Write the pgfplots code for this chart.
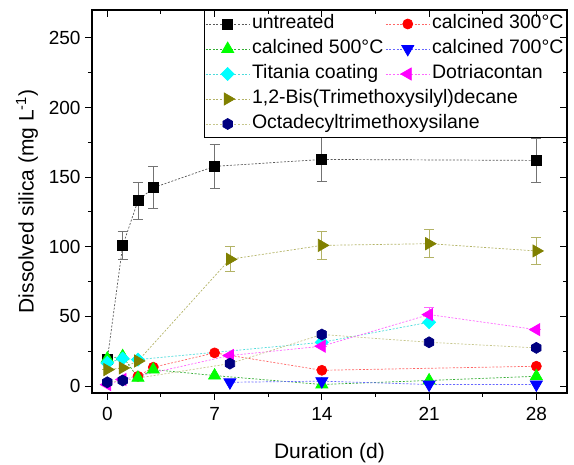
\documentclass[border=0pt]{standalone}
\usepackage{pgfplots}
\pgfplotsset{compat=1.18}
\usepackage{fontspec}
\setmainfont{Liberation Sans}
\definecolor{cred}{RGB}{255,0,0}
\definecolor{cgreen}{RGB}{0,255,0}
\definecolor{cblue}{RGB}{0,0,255}
\definecolor{ccyan}{RGB}{0,255,255}
\definecolor{cmag}{RGB}{255,0,255}
\definecolor{colive}{RGB}{128,128,0}
\definecolor{cnavy}{RGB}{0,0,128}
\pgfdeclareplotmark{hexagon*}{%
  \pgfpathmoveto{\pgfpointpolar{90}{\pgfplotmarksize}}%
  \pgfpathlineto{\pgfpointpolar{150}{\pgfplotmarksize}}%
  \pgfpathlineto{\pgfpointpolar{210}{\pgfplotmarksize}}%
  \pgfpathlineto{\pgfpointpolar{270}{\pgfplotmarksize}}%
  \pgfpathlineto{\pgfpointpolar{330}{\pgfplotmarksize}}%
  \pgfpathlineto{\pgfpointpolar{30}{\pgfplotmarksize}}%
  \pgfpathclose
  \pgfusepathqfillstroke}
\tikzset{
  ser/.style={line width=0.7pt, dash pattern=on 2pt off 1.6pt},
  mk/.style={solid, fill=#1, draw=#1},
}
\begin{document}
\begin{tikzpicture}
\begin{axis}[name=ax, scale only axis, width=475pt, height=383pt,
  xmin=-1, xmax=30, ymin=-5, ymax=270,
  xtick={0,7,14,21,28}, ytick={0,50,...,250},
  minor x tick num=1, minor y tick num=1,
  xtick pos=bottom, ytick pos=left, tick align=outside,
  major tick length=7pt, minor tick length=4pt,
  axis line style={line width=1.3pt},
  every tick/.style={black, line width=1pt},
  tick label style={font=\fontsize{19}{19}\selectfont},
  xticklabel style={yshift=-4pt},
  yticklabel style={xshift=-1pt},
  /pgf/number format/assume math mode=true,
  xlabel={Duration (d)},
  ylabel={Dissolved silica (mg L\textsuperscript{-1})},
  label style={font=\fontsize{21}{21}\selectfont},
  xlabel style={at={(axis description cs:0.5,-0.157)}, anchor=center},
  ylabel style={at={(axis description cs:-0.137,0.5)}, anchor=center},
  legend style={at={(1,1)}, anchor=north east, draw=black, line width=1pt,
    font=\fontsize{19.5}{19.5}\selectfont, column sep=0pt, inner sep=1pt,
    nodes={inner xsep=2pt, inner ysep=2.5pt, text height=15pt, text depth=5pt}},
  legend cell align=left,
  legend columns=2,
  legend image code/.code={\draw[mark repeat=2, mark phase=2] plot coordinates {(0pt,0pt) (22pt,0pt) (44pt,0pt)};},
]
% untreated
\addplot[ser, draw=black!65, mark=square*, mark size=5pt, mark options={mk=black},
  error bars/.cd, y dir=both, y explicit,
  error bar style={solid, draw=black!55, line width=0.8pt},
  error mark options={rotate=90, mark size=5pt, draw=black!55, line width=0.8pt}]
  table[x=x, y=y, y error=e] {
x y e
0 19 2
1 100.7 10
2 133 13
3 142.4 15
7 157.7 16
14 162.7 16
28 162 16
};
\addlegendentry{untreated}
% calcined 300
\addplot[ser, draw=cred!60, mark=*, mark size=5pt, mark options={mk=cred}]
  table[x=x, y=y] {
x y
2 7
3 13.5
7 23.8
14 11.3
28 14.2
};
\addlegendentry{calcined 300°C}
% calcined 500
\addplot[ser, draw=cgreen!60!black!80, mark=triangle*, mark size=7pt, mark options={mk=cgreen}]
  table[x=x, y=y] {
x y
0 19.7
1 21.4
2 5.9
3 11.8
7 7.5
14 1.1
21 4
28 7
};
\addlegendentry{calcined 500°C}
% calcined 700
\addplot[ser, draw=cblue!60, mark=triangle*, mark size=7pt, mark options={mk=cblue, rotate=180}]
  table[x=x, y=y] {
x y
8 2.7
14 3.5
21 1.1
28 1.1
};
\addlegendentry{calcined 700°C}
% titania
\addplot[ser, draw=ccyan!80!black!70, mark=diamond*, mark size=6.5pt, mark options={mk=ccyan, xscale=1.33}]
  table[x=x, y=y] {
x y
0 16.6
1 19.7
2 19
14 31.4
21 45.8
};
\addlegendentry{Titania coating}
% dotriacontan
\addplot[ser, draw=cmag!60, mark=triangle*, mark size=7pt, mark options={mk=cmag, rotate=90},
  error bars/.cd, y dir=both, y explicit,
  error bar style={solid, draw=cmag!60, line width=0.8pt},
  error mark options={rotate=90, mark size=5pt, draw=cmag!60, line width=0.8pt}]
  table[x=x, y=y, y error=e] {
x y e
0 1 0
1 4.7 0
8 21.9 0
14 28.6 0
21 51.3 5
28 40.5 0
};
\addlegendentry{Dotriacontan}
% bis
\addplot[ser, draw=colive!60, mark=triangle*, mark size=7pt, mark options={mk=colive, rotate=-90},
  error bars/.cd, y dir=both, y explicit,
  error bar style={solid, draw=colive!60, line width=0.8pt},
  error mark options={rotate=90, mark size=5pt, draw=colive!60, line width=0.8pt}]
  table[x=x, y=y, y error=e] {
x y e
0 11.8 0
1 13 0
2 18 0
8 91 9
14 101 10
21 102.2 10
28 97 9.5
};
\addlegendentry{\makebox[0pt][l]{1,2-Bis(Trimethoxysilyl)decane}}
\addlegendimage{empty legend}
\addlegendentry{}
% octadecyl
\addplot[ser, draw=colive!45, mark=hexagon*, mark size=5.5pt, mark options={mk=cnavy},
  error bars/.cd, y dir=both, y explicit,
  error bar style={solid, draw=cnavy!60, line width=0.8pt},
  error mark options={rotate=90, mark size=4pt, draw=cnavy!60, line width=0.8pt}]
  table[x=x, y=y, y error=e] {
x y e
0 2.7 0
1 4 0
8 16.1 0
14 37 3
21 31.4 0
28 27.4 0
};
\addlegendentry{\makebox[0pt][l]{Octadecyltrimethoxysilane}}
\end{axis}
\begin{axis}[scale only axis, width=475pt, height=383pt,
  xmin=-1, xmax=30, ymin=-5, ymax=270,
  xtick={0,7,14,21,28}, ytick={0,50,...,250},
  minor x tick num=1, minor y tick num=1,
  xtick pos=top, ytick pos=right, tick align=inside,
  major tick length=7pt, minor tick length=4pt,
  axis line style={line width=1.3pt},
  every tick/.style={black, line width=1pt},
  xticklabels={}, yticklabels={}]
\end{axis}
\pgfresetboundingbox
\path[use as bounding box] (ax.south west) ++(-92pt,-72pt) rectangle ++(574pt,465pt);
\end{tikzpicture}
\end{document}
